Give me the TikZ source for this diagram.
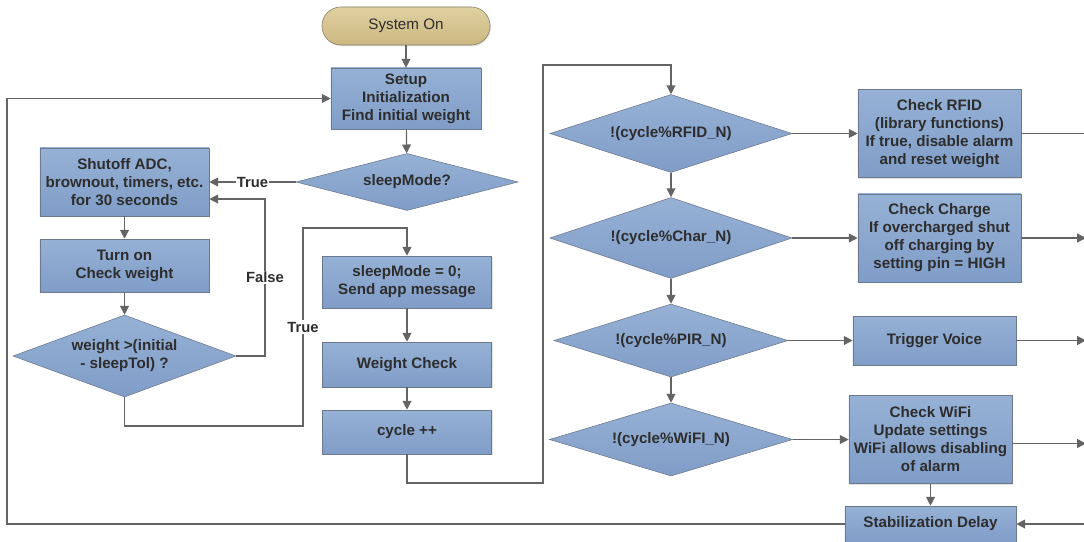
\documentclass[tikz,border=0pt]{standalone}
\usepackage{fontspec}
\setmainfont{Liberation Sans}
\usetikzlibrary{shapes.geometric,arrows.meta,positioning,shadows}
\definecolor{box-top}{RGB}{150,177,213}
\definecolor{box-bottom}{RGB}{128,157,200}
\definecolor{box-edge}{RGB}{108,120,140}
\definecolor{start-top}{RGB}{224,209,162}
\definecolor{start-bottom}{RGB}{203,183,128}
\definecolor{start-edge}{RGB}{135,125,100}
\definecolor{line-gray}{RGB}{100,100,100}
\definecolor{ink}{RGB}{45,45,45}

\begin{document}
\begin{tikzpicture}[x=0.025cm, y=-0.025cm,
    box/.style = {rectangle, draw=box-edge, top color=box-top,
                  bottom color=box-bottom, align=center, inner sep=0pt,
                  font=\fontsize{10.8}{12.8}\selectfont\bfseries, text=ink,
                  drop shadow={opacity=0.22, shadow xshift=0.7pt, shadow yshift=-0.9pt}},
    decision/.style = {diamond, draw=box-edge, top color=box-top,
                       bottom color=box-bottom, align=center, inner sep=0pt,
                       aspect=3, font=\fontsize{10.8}{12.8}\selectfont\bfseries,
                       text=ink},
    terminal/.style = {rectangle, rounded corners=0.47cm, draw=start-edge,
                       top color=start-top, bottom color=start-bottom,
                       minimum width=4.2cm, minimum height=0.95cm,
                       font=\fontsize{10.8}{12.8}\selectfont, text=ink,
                       drop shadow={opacity=0.22, shadow xshift=0.7pt, shadow yshift=-0.9pt}},
    arrow/.style = {-{Triangle[length=2.2mm, width=2.2mm]}, line width=0.85pt,
                    draw=line-gray},
    tag/.style = {fill=white, inner sep=1pt,
                  font=\fontsize{10.5}{12}\selectfont\bfseries, text=ink}
  ]
    \useasboundingbox (0,0) rectangle (1084,541);
    \clip (0,0) rectangle (1084,541);

    %% ---- start-up and sleep check ----
    \node[terminal] (sysOn) at (406,26) {System On};
    \node[box, minimum width=3.75cm, minimum height=1.525cm] (setup) at (406,98.5)
      {Setup\\Initialization\\Find initial weight};
    \node[decision, minimum width=5.55cm, minimum height=1.425cm] (sleepQ) at (407,182)
      {sleepMode?};

    %% ---- sleep branch (left column) ----
    \node[box, minimum width=4.225cm, minimum height=1.7cm] (shutoff) at (124.5,182)
      {Shutoff ADC,\\brownout, timers, etc.\\for 30 seconds};
    \node[box, minimum width=4.225cm, minimum height=1.325cm] (wake) at (124.5,265.5)
      {Turn on\\Check weight};
    \node[decision, minimum width=5.575cm, minimum height=2.05cm] (weightQ) at (124.5,356)
      {weight >(initial\\- sleepTol) ?};

    %% ---- awake path (middle column) ----
    \node[box, minimum width=4.225cm, minimum height=1.3cm] (awake) at (407,282)
      {sleepMode = 0;\\Send app message};
    \node[box, minimum width=4.225cm, minimum height=1.125cm] (wcheck) at (407,364.5)
      {Weight Check};
    \node[box, minimum width=4.225cm, minimum height=1.1cm] (cycle) at (407,432)
      {cycle ++};

    %% ---- periodic checks ----
    \node[decision, minimum width=6.05cm, minimum height=1.95cm] (rfidQ) at (671,133.5)
      {!(cycle\%RFID\_N)};
    \node[decision, minimum width=6.05cm, minimum height=2.025cm] (charQ) at (671,238)
      {!(cycle\%Char\_N)};
    \node[decision, minimum width=5.85cm, minimum height=1.825cm] (pirQ) at (671,340.5)
      {!(cycle\%PIR\_N)};
    \node[decision, minimum width=6.075cm, minimum height=1.825cm] (wifiQ) at (671,439.5)
      {!(cycle\%WiFI\_N)};

    \node[box, minimum width=4.075cm, minimum height=2.2cm] (rfid) at (939.5,133.5)
      {Check RFID\\(library functions)\\If true, disable alarm\\and reset weight};
    \node[box, minimum width=4.075cm, minimum height=2.2cm] (charge) at (939.5,238)
      {Check Charge\\If overcharged shut\\off charging by\\setting pin = HIGH};
    \node[box, minimum width=4.075cm, minimum height=1.225cm] (voice) at (934.5,340.5)
      {Trigger Voice};
    \node[box, minimum width=4.075cm, minimum height=2.2cm] (wifi) at (930.5,439.5)
      {Check WiFi\\Update settings\\WiFi allows disabling\\of alarm};
    \node[box, minimum width=4.275cm, minimum height=0.9cm] (delay) at (930.5,524)
      {Stabilization Delay};

    %% ---- bends for the routed lines ----
    \coordinate (falseBend) at (265,199);
    \coordinate (trueLow)   at (303,426);
    \coordinate (trueHigh)  at (303,228);
    \coordinate (busLow)    at (543,483);
    \coordinate (busHigh)   at (543,65);
    \coordinate (sumTop)    at (1086,133.5);
    \coordinate (retLow)    at (7,524);
    \coordinate (retHigh)   at (7,98.5);

    %% ---- connectors ----
    \draw[arrow] (sysOn) -- (setup);
    \draw[arrow] (setup) -- (sleepQ);
    \draw[arrow] (sleepQ.west) -- node[tag] {True} (shutoff.east);
    \draw[arrow] (shutoff) -- (wake);
    \draw[arrow] (wake) -- (weightQ);
    \draw[arrow] (weightQ.east) -| node[tag, pos=0.75] {False} (falseBend)
      -- (falseBend -| shutoff.east);
    \draw[arrow] (weightQ.south) |- (trueLow) -- node[tag] {True} (trueHigh)
      -| (awake.north);
    \draw[arrow] (awake) -- (wcheck);
    \draw[arrow] (wcheck) -- (cycle);
    \draw[arrow] (cycle.south) |- (busLow) -- (busHigh) -| (rfidQ.north);

    \draw[arrow] (rfidQ) -- (charQ);
    \draw[arrow] (charQ) -- (pirQ);
    \draw[arrow] (pirQ) -- (wifiQ);
    \draw[arrow] (rfidQ.east) -- (rfid.west);
    \draw[arrow] (charQ.east) -- (charge.west);
    \draw[arrow] (pirQ.east) -- (voice.west);
    \draw[arrow] (wifiQ.east) -- (wifi.west);

    % everything on the right joins one line down to the delay
    \draw[arrow] (rfid.east) -- (sumTop) |- (delay.east);
    \draw[arrow] (charge.east) -- (charge.east -| sumTop);
    \draw[arrow] (voice.east) -- (voice.east -| sumTop);
    \draw[arrow] ([yshift=-0.1cm]wifi.east) -- ([yshift=-0.1cm]wifi.east -| sumTop);
    \draw[arrow] (wifi) -- (delay);

    % back round to the setup
    \draw[arrow] (delay.west) -- (retLow) -- (retHigh) -- (setup.west);
  \end{tikzpicture}
\end{document}
